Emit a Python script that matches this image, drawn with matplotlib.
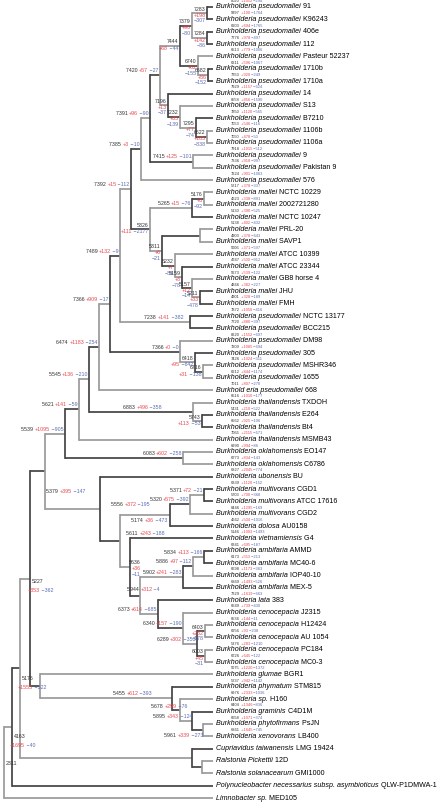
import matplotlib
matplotlib.use("Agg")
import matplotlib.pyplot as plt

plt.rcParams['font.family'] = ['Liberation Sans', 'DejaVu Sans']

# ---- leaves (top to bottom) ----
leaf_species = (["Burkholderia pseudomallei"] * 15 + ["Burkholderia mallei"] * 10 +
                ["Burkholderia pseudomallei"] * 6 + ["Burkhold eria pseudomallei"] +
                ["Burkholderia thailandensis"] * 4 + ["Burkholderia oklahomensis"] * 2 +
                ["Burkholderia ubonensis"] + ["Burkholderia multivorans"] * 3 +
                ["Burkholderia dolosa", "Burkholderia vietnamiensis"] +
                ["Burkholderia ambifaria"] * 4 + ["Burkholderia lata"] +
                ["Burkholderia cenocepacia"] * 5 +
                ["Burkholderia glumae", "Burkholderia phymatum", "Burkholderia sp.",
                 "Burkholderia graminis", "Burkholderia phytofirmans", "Burkholderia xenovorans",
                 "Cupriavidus taiwanensis", "Ralstonia Pickettii", "Ralstonia solanacearum",
                 "Polynucleobacter necessarius subsp. asymbioticus", "Limnobacter sp."])
leaf_strain = ["91", "K96243", "406e", "112", "Pasteur 52237", "1710b", "1710a", "14", "S13",
               "B7210", "1106b", "1106a", "9", "Pakistan 9", "576",
               "NCTC 10229", "2002721280", "NCTC 10247", "PRL-20", "SAVP1", "ATCC 10399",
               "ATCC 23344", "GB8 horse 4", "JHU", "FMH",
               "NCTC 13177", "BCC215", "DM98", "305", "MSHR346", "1655", "668",
               "TXDOH", "E264", "Bt4", "MSMB43", "EO147", "C6786", "BU",
               "CGD1", "ATCC 17616", "CGD2", "AU0158", "G4",
               "AMMD", "MC40-6", "IOP40-10", "MEX-5", "383",
               "J2315", "H12424", "AU 1054", "PC184", "MC0-3",
               "BGR1", "STM815", "H160", "C4D1M", "PsJN", "LB400",
               "LMG 19424", "12D", "GMI1000", "QLW-P1DMWA-1", "MED105"]
leaf_count = [8020, 5997, 6203, 7776, 6513, 6211, 7353, 7929, 6558, 7850, 7053, 7050, 7918, 7336, 7224,
              5217, 4623, 5130, 5138, 4903, 5006, 4747, 5673, 4866, 4901,
              7872, 7720, 8220, 7209, 7426, 6212, 7011,
              6516, 5431, 6562, 7065, 6990, 6773, 6827,
              6339, 5703, 6446, 4662, 5146, 6341, 6173, 6698, 6869, 7329,
              6649, 6536, 6256, 5376, 6726, 5075, 5237, 6976, 6404, 6658, 6861]
leaf_gain = [1052, 100, 694, 978, 779, 596, 920, 1157, 856, 1120, 546, 478, 1015, 918, 901,
             378, 338, 390, 402, 378, 371, 500, 539, 382, 328,
             1050, 880, 1552, 1085, 1024, 844, 807,
             1010, 210, 925, 2115, 994, 834, 2045,
             1120, 700, 1295, 504, 1003, 695, 553, 1173, 1493, 1619,
             739, 144, 93, 283, 645, 1220, 942, 2333, 1346, 1071, 1645]
leaf_loss = [294, 1764, 1765, 497, 1006, 1067, 249, 624, 1590, 565, 116, 50, 512, 997, 1063,
             337, 891, 525, 432, 643, 597, 912, 122, 227, 189,
             416, 397, 697, 694, 311, 1174, 270,
             177, 522, 106, 671, 86, 143, 774,
             152, 368, 169, 1016, 1493, 187, 213, 363, 526, 663,
             430, 11, 238, 1210, 122, 1372, 1142, 1036, 836, 374, 745]

# ---- internal nodes: id, children, depth, count, gain, loss ----
node_id = ["n7283", "n7284", "n7379", "n6682", "n6740", "n7444", "n6622", "n7295", "n7232",
           "n7196", "n7420", "n7415", "n7391", "n7385",
           "n5176", "n5265", "nPS", "n5211", "n5157", "n5159", "n5232", "n5311", "n5326",
           "n7392", "n7238", "n7489", "n6716", "n6418", "n7368", "n7366", "n6474",
           "n5743", "n6883", "n5545", "n5621", "n6083", "n5539",
           "n5371", "n5320", "n5174", "n5834", "n5886", "n5902", "n6403", "n6003", "n6289",
           "n6340", "n6373", "n5944", "n5636", "n5611", "n5556", "n5379",
           "n5961", "n5895", "n5678", "n5455", "nGP", "n5227",
           "nRA2", "nRA", "n5176b", "n4163", "n2311"]
node_kids = [(0, 1), (2, 3), ("n7283", "n7284"), (5, 6), (4, "n6682"), ("n7379", "n6740"),
             (10, 11), (9, "n6622"), (8, "n7295"), (7, "n7232"), ("n7444", "n7196"), (12, 13),
             ("n7420", "n7415"), ("n7391", 14),
             (15, 16), ("n5176", 17), (18, 19), (23, 24), (22, "n5211"), (21, "n5157"),
             (20, "n5159"), ("nPS", "n5232"), ("n5265", "n5311"),
             ("n7385", "n5326"), (25, 26), ("n7392", "n7238"), (29, 30), (28, "n6716"),
             (27, "n6418"), ("n7489", "n7368"), ("n7366", 31),
             (33, 34), (32, "n5743"), ("n6474", "n6883"), ("n5545", 35), (36, 37),
             ("n5621", "n6083"),
             (39, 40), ("n5371", 41), ("n5320", 42), (44, 45), ("n5834", 46), ("n5886", 47),
             (50, 51), (52, 53), ("n6403", "n6003"), (49, "n6289"), (48, "n6340"),
             ("n5902", "n6373"), (43, "n5944"), ("n5174", "n5636"), (38, "n5611"),
             ("n5539", "n5556"),
             (58, 59), (57, "n5961"), (56, "n5895"), (55, "n5678"), (54, "n5455"),
             ("n5379", "nGP"),
             (61, 62), (60, "nRA2"), ("n5227", "nRA"), ("n5176b", 63), ("n4163", 64)]
node_depth = [207, 207, 192, 208, 198, 180, 207, 196, 180, 168, 160, 193, 150, 141,
              204, 192, 200, 200, 192, 182, 175, 162, 150,
              131, 190, 120, 203, 195, 180, 110, 99,
              202, 193, 89, 79, 183, 65,
              204, 190, 170, 204, 193, 183, 205, 205, 197, 183, 158, 140, 130, 120, 100, 45,
              203, 192, 180, 172, 40, 30,
              202, 192, 20, 12, 4]
node_count = [7283, 7284, 7379, 6682, 6740, 7444, 6622, 7295, 7232, 7196, 7420, 7415, 7391, 7385,
              5176, 5265, None, 5211, 5157, 5159, 5232, 5311, 5326,
              7392, 7238, 7489, 6716, 6418, 7366, 7366, 6474,
              5743, 6883, 5545, 5621, 6083, 5539,
              5371, 5320, 5174, 5834, 5886, 5902, 6403, 6003, 6289, 6340, 6373, 5944, 5636, 5611,
              5556, 5379,
              5961, 5895, 5678, 5455, None, 5227,
              None, None, 5176, 4163, 2311]
node_gain = [198, 142, 96, 56, 62, 68, 185, 77, 35, 13, 57, 125, 96, 3,
             3, 15, None, 33, 12, 8, 7, 6, 111,
             15, 141, 132, 31, 95, 0, 909, 1183,
             113, 496, 136, 141, 602, 1095,
             72, 575, 36, 113, 97, 241, 282, 45, 302, 157, 614, 312, 36, 243, 372, 395,
             339, 343, 299, 612, None, 353,
             None, None, 1555, 1695, None]
node_loss = [307, 86, 80, 152, 155, 44, 838, 74, 139, 37, 27, 101, 90, 10,
             92, 76, None, 478, 14, 78, 86, 21, 2177,
             112, 382, 9, 138, 642, 0, 17, 254,
             53, 358, 210, 59, 258, 905,
             21, 392, 473, 166, 112, 283, 178, 31, 353, 190, 685, 4, 11, 188, 195, 147,
             273, 124, 76, 393, None, 362,
             None, None, 322, 40, None]

# ---- label layout ----
stack3 = {"n7283", "n7284", "n7379", "n6682", "n6740", "n6622", "n7295", "n7232", "n7196",
          "n5176", "n5211", "n5157", "n5159", "n5232", "n5311", "n6403", "n6003", "n5636"}
stack2 = {"n7444", "n5326", "n6716", "n6418", "n5743"}
# stacked below-right of the node, near the root: dy of first line
rootstack = {"n5227": 2.5, "n5176b": 10, "n4163": 9, "n2311": 1}
# (dx of right edge from node x, dy of text centre from node y)
label_off = {"n6883": (-31, -4.5), "n5678": (7, -3), "n5895": (0, -4), "n5961": (0, 5),
             "n7238": (-7, -4.5), "n5379": (40, 20), "n5556": (50, -4.5),
             "n5611": (45, -7.5), "n5174": (-3, 5), "n5636": (11, -5), "n5944": (20, -6),
             "n5455": (-20, -4.5)}

TIP = 213
Y0, DY = 7.0, 12.36
C_CNT, C_GAIN, C_LOSS = "#333333", "#e8474f", "#5b6cb3"
DARK, GRAY = "#444444", "#9a9a9a"

fig = plt.figure(figsize=(4.4, 8.02), dpi=100)
ax = fig.add_axes([0, 0, 1, 1])
ax.set_xlim(0, 440)
ax.set_ylim(802, 0)
ax.axis("off")

idx = {n: i for i, n in enumerate(node_id)}
ypos = {}


def y_of(k):
    if isinstance(k, int):
        return Y0 + DY * k
    if k not in ypos:
        a, b = node_kids[idx[k]]
        ypos[k] = (y_of(a) + y_of(b)) / 2
    return ypos[k]


def x_of(k):
    return TIP if isinstance(k, int) else node_depth[idx[k]]


def draw(k, level):
    if isinstance(k, int):
        return
    i = idx[k]
    a, b = node_kids[i]
    x = node_depth[i]
    col = GRAY if level % 2 == 0 else DARK
    ax.plot([x, x], [y_of(a), y_of(b)], color=col, lw=1.25, solid_capstyle="projecting")
    for c in (a, b):
        ax.plot([x, x_of(c)], [y_of(c), y_of(c)], color=col, lw=1.25, solid_capstyle="butt")
        draw(c, level + 1)


draw("n2311", 0)


def chain_right(x, y, parts, size):
    prev = None
    for txt, col in reversed(parts):
        if prev is None:
            prev = ax.text(x, y, txt, color=col, fontsize=size, ha="right", va="center")
        else:
            prev = ax.annotate(txt, xy=(0, 0), xycoords=prev, color=col, fontsize=size,
                               ha="right", va="bottom")


def chain_left(x, y, parts, size, styles=None):
    prev = None
    for j, (txt, col) in enumerate(parts):
        st = styles[j] if styles else "normal"
        if prev is None:
            prev = ax.text(x, y, txt, color=col, fontsize=size, ha="left", va="center", style=st)
        else:
            prev = ax.annotate(txt, xy=(1, 0), xycoords=prev, color=col, fontsize=size,
                               ha="left", va="bottom", style=st)


# leaf labels and annotations
for i in range(len(leaf_species)):
    y = y_of(i)
    chain_left(216, y, [(leaf_species[i], "black"), (" " + leaf_strain[i], "black")], 5.15,
               ["italic", "normal"])
    if i < len(leaf_count):
        chain_left(231, y - 6.2, [(str(leaf_count[i]), C_CNT), (" +%d" % leaf_gain[i], C_GAIN),
                                  (" \u2212%d" % leaf_loss[i], C_LOSS)], 2.9)

# internal node labels
NS = 3.8
for i, n in enumerate(node_id):
    if node_count[i] is None:
        continue
    x0, y = node_depth[i], y_of(n)
    cnt = str(node_count[i])
    if n in rootstack:
        d = rootstack[n]
        ax.text(x0 + 1.5, y + d, cnt, color=C_CNT, fontsize=NS, ha="left", va="center")
        if node_gain[i] is not None:
            chain_left(x0 - 2, y + d + 9.5, [("+%d" % node_gain[i], C_GAIN),
                                             (" \u2212%d" % node_loss[i], C_LOSS)], NS)
        continue
    g = "+%d" % node_gain[i]
    l = "\u2212%d" % node_loss[i]
    dx, dy = label_off.get(n, (-1.5, -4.5))
    xr = x0 + dx
    if n in stack3:
        sh = dy + 4.5 if n in label_off else 0
        ax.text(xr, y - 4 + sh, cnt, color=C_CNT, fontsize=NS, ha="right", va="center")
        ax.text(xr, y + 2.2 + sh, g, color=C_GAIN, fontsize=NS, ha="right", va="center")
        ax.text(xr, y + 7.8 + sh, l, color=C_LOSS, fontsize=NS, ha="right", va="center")
    elif n in stack2:
        ax.text(xr, y - 4, cnt, color=C_CNT, fontsize=NS, ha="right", va="center")
        chain_right(xr, y + 2.5, [(g, C_GAIN), (" " + l, C_LOSS)], NS)
    else:
        chain_right(xr, y + dy, [(cnt + " ", C_CNT), (g, C_GAIN), (" " + l, C_LOSS)], NS)

fig.savefig("out.png", dpi=100)
